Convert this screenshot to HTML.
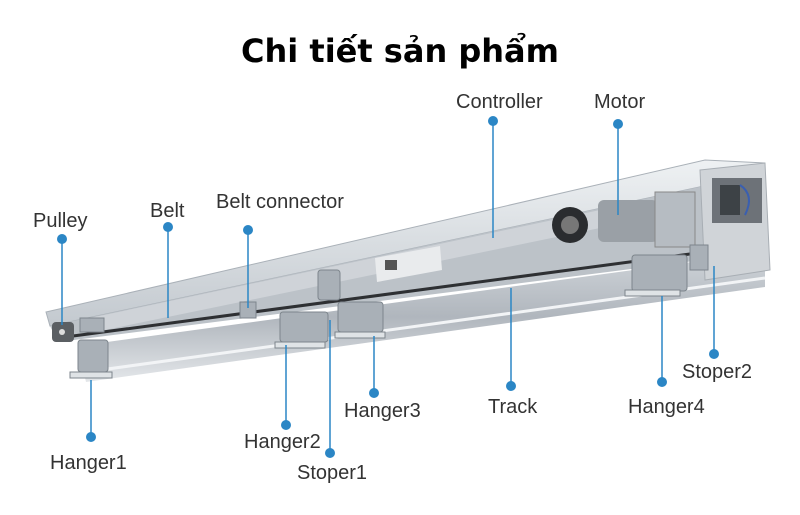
<!DOCTYPE html>
<html><head><meta charset="utf-8"><style>
html,body{margin:0;padding:0;background:#fff;}
svg{display:block}
text{font-family:"Liberation Sans",sans-serif;}
</style></head><body>
<svg width="800" height="515" viewBox="0 0 800 515" xmlns="http://www.w3.org/2000/svg">
<rect width="800" height="515" fill="#fff"/>
<text x="400" y="62" text-anchor="middle" font-size="32" font-weight="bold" fill="#000" style="font-family:'DejaVu Sans','Liberation Sans',sans-serif">Chi tiết sản phẩm</text>
<defs>
<linearGradient id="g1" x1="0" y1="0" x2="0" y2="1"><stop offset="0" stop-color="#eef1f3"/><stop offset="1" stop-color="#c3c9cf"/></linearGradient>
<linearGradient id="g2" x1="0" y1="0" x2="0" y2="1"><stop offset="0" stop-color="#d0d5da"/><stop offset="0.5" stop-color="#b0b6bd"/><stop offset="1" stop-color="#e4e7ea"/></linearGradient>
</defs>
<polygon points="46,312 705,160 765,163 765,173 50,326" fill="url(#g1)" stroke="#aab1b8" stroke-width="1"/>
<polygon points="50,326 765,173 765,252 58,342" fill="#bcc2c8"/>
<polygon points="90,318 600,210 600,228 95,332" fill="#cfd3d8"/>
<line x1="58" y1="338" x2="720" y2="250" stroke="#2e3033" stroke-width="3"/>
<polygon points="78,346 765,252 765,287 86,382" fill="url(#g2)"/>
<line x1="86" y1="372" x2="765" y2="278" stroke="#f2f4f6" stroke-width="3"/>
<polygon points="375,258 440,246 442,270 377,282" fill="#e9ebed"/>
<rect x="385" y="260" width="12" height="10" fill="#555"/>
<polygon points="700,170 765,163 770,270 705,280" fill="#d0d4d8" stroke="#a8aeb4"/>
<rect x="712" y="178" width="50" height="45" fill="#6d7278"/>
<rect x="720" y="185" width="20" height="30" fill="#3d4246"/>
<path d="M740 185 q15 10 5 30" stroke="#3a5fb0" stroke-width="2" fill="none"/>
<rect x="598" y="200" width="60" height="42" rx="6" fill="#9aa0a6"/>
<rect x="655" y="192" width="40" height="55" fill="#b6bcc2" stroke="#888"/>
<circle cx="570" cy="225" r="18" fill="#2a2c2f"/>
<circle cx="570" cy="225" r="9" fill="#777"/>
<rect x="52" y="322" width="22" height="20" rx="4" fill="#5b5f63"/>
<circle cx="62" cy="332" r="3" fill="#ddd"/>
<g fill="#a9b0b7" stroke="#7d858c" stroke-width="1">
<rect x="78" y="340" width="30" height="32" rx="3"/>
<rect x="70" y="372" width="42" height="6" fill="#dfe3e6"/>
<rect x="80" y="318" width="24" height="14"/>
<rect x="280" y="312" width="48" height="30" rx="3"/>
<rect x="275" y="342" width="50" height="6" fill="#dfe3e6"/>
<rect x="338" y="302" width="45" height="30" rx="3"/>
<rect x="335" y="332" width="50" height="6" fill="#dfe3e6"/>
<rect x="318" y="270" width="22" height="30" rx="3"/>
<rect x="240" y="302" width="16" height="16"/>
<rect x="632" y="255" width="55" height="36" rx="3"/>
<rect x="625" y="290" width="55" height="6" fill="#dfe3e6"/>
<rect x="690" y="245" width="18" height="25"/>
</g>
<g stroke="#2b86c5" stroke-width="1.5" fill="none">
<line x1="62" y1="239" x2="62" y2="325"/>
<line x1="168" y1="227" x2="168" y2="318"/>
<line x1="248" y1="230" x2="248" y2="308"/>
<line x1="493" y1="121" x2="493" y2="238"/>
<line x1="618" y1="124" x2="618" y2="215"/>
<line x1="91" y1="437" x2="91" y2="380"/>
<line x1="286" y1="425" x2="286" y2="345"/>
<line x1="330" y1="453" x2="330" y2="320"/>
<line x1="374" y1="393" x2="374" y2="336"/>
<line x1="511" y1="386" x2="511" y2="288"/>
<line x1="662" y1="382" x2="662" y2="296"/>
<line x1="714" y1="354" x2="714" y2="266"/>
</g>
<g fill="#2b86c5">
<circle cx="62" cy="239" r="5"/><circle cx="168" cy="227" r="5"/><circle cx="248" cy="230" r="5"/>
<circle cx="493" cy="121" r="5"/><circle cx="618" cy="124" r="5"/><circle cx="91" cy="437" r="5"/>
<circle cx="286" cy="425" r="5"/><circle cx="330" cy="453" r="5"/><circle cx="374" cy="393" r="5"/>
<circle cx="511" cy="386" r="5"/><circle cx="662" cy="382" r="5"/><circle cx="714" cy="354" r="5"/>
</g>
<g font-size="20" fill="#333">
<text x="33" y="227">Pulley</text>
<text x="150" y="217">Belt</text>
<text x="216" y="208">Belt connector</text>
<text x="456" y="108">Controller</text>
<text x="594" y="108">Motor</text>
<text x="50" y="469">Hanger1</text>
<text x="244" y="448">Hanger2</text>
<text x="297" y="479">Stoper1</text>
<text x="344" y="417">Hanger3</text>
<text x="488" y="413">Track</text>
<text x="628" y="413">Hanger4</text>
<text x="682" y="378">Stoper2</text>
</g>
</svg>
</body></html>
